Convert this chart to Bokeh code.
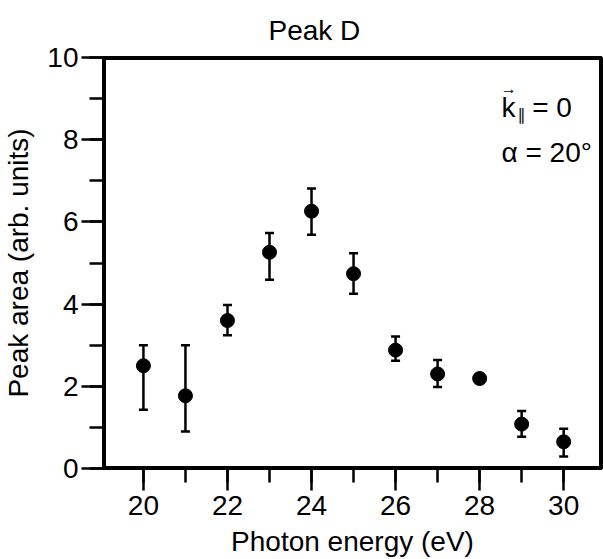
from bokeh.plotting import figure
from bokeh.models import (ColumnDataSource, Whisker, TeeHead, Label, SingleIntervalTicker,
                          Range1d, BoxAnnotation)
from bokeh.embed import file_html
from bokeh.resources import INLINE

# ---- data ----
photon_energy = [20, 21, 22, 23, 24, 25, 26, 27, 28, 29, 30]
peak_area     = [2.50, 1.77, 3.60, 5.26, 6.26, 4.74, 2.88, 2.30, 2.19, 1.08, 0.65]
err_lower     = [1.43, 0.90, 3.24, 4.59, 5.69, 4.25, 2.62, 1.98, None, 0.77, 0.29]
err_upper     = [3.00, 3.00, 3.98, 5.73, 6.81, 5.24, 3.21, 2.64, None, 1.40, 0.97]

title_text = "Peak D"
x_label = "Photon energy (eV)"
y_label = "Peak area (arb. units)"

FONT = "'Liberation Sans Narrow', 'Liberation Sans', sans-serif"
FONT2 = "'Liberation Sans', sans-serif"

p = figure(frame_width=498, frame_height=411, output_backend="svg", toolbar_location=None,
           x_range=Range1d(19.05, 30.9), y_range=Range1d(0, 10),
           min_border_left=102, min_border_right=3, min_border_top=56, min_border_bottom=92,
           title=title_text)
p.background_fill_color = "white"
p.border_fill_color = "white"
p.xgrid.visible = False
p.ygrid.visible = False
p.outline_line_color = "black"
p.outline_line_width = 3

p.title.text_font = FONT2
p.title.text_font_size = "28px"
p.title.text_font_style = "normal"
p.title.text_color = "black"
p.title.align = "left"
p.title.offset = 165
p.title.standoff = 24

for ax in (p.xaxis[0], p.yaxis[0]):
    ax.ticker = SingleIntervalTicker(interval=2, num_minor_ticks=2)
    ax.axis_line_width = 3
    ax.axis_line_color = "black"
    ax.major_tick_line_width = 2.5
    ax.minor_tick_line_width = 2.5
    ax.major_tick_line_color = "black"
    ax.minor_tick_line_color = "black"
    ax.major_tick_in = 0
    ax.minor_tick_in = 0
    ax.major_tick_out = 22
    ax.minor_tick_out = 14
    ax.major_label_text_font = FONT
    ax.major_label_text_font_size = "28px"
    ax.major_label_text_color = "black"
    ax.axis_label_text_font = FONT2
    ax.axis_label_text_font_size = "28px"
    ax.axis_label_text_font_style = "normal"
    ax.axis_label_text_color = "black"

p.xaxis.axis_label = x_label
p.yaxis.axis_label = y_label
p.xaxis.major_label_standoff = 5
p.xaxis.axis_label_standoff = 8
p.yaxis.major_label_standoff = 3
p.yaxis.axis_label_standoff = 10

# frame box (top and right edges of the plot area)
p.add_layout(BoxAnnotation(fill_alpha=0, line_color="black", line_width=5, line_alpha=1))

# error bars (point at 28 eV has none)
eb = [(x, lo, hi) for x, lo, hi in zip(photon_energy, err_lower, err_upper) if lo is not None]
esrc = ColumnDataSource(dict(x=[e[0] for e in eb], lower=[e[1] for e in eb], upper=[e[2] for e in eb]))
w = Whisker(source=esrc, base="x", lower="lower", upper="upper", dimension="height",
            line_color="black", line_width=2.5,
            upper_head=TeeHead(size=9, line_color="black", line_width=2.5),
            lower_head=TeeHead(size=9, line_color="black", line_width=2.5))
p.add_layout(w)

src = ColumnDataSource(dict(x=photon_energy, y=peak_area))
p.scatter("x", "y", source=src, size=14, marker="circle", fill_color="black", line_color="black")

# annotations
p.add_layout(Label(x=28.52, y=8.78, text="k", text_align="left", text_baseline="alphabetic",
                   text_font=FONT2, text_font_size="28px", text_color="black"))
p.add_layout(Label(x=28.50, y=9.25, text="\u2192", text_align="left", text_baseline="alphabetic",
                   text_font=FONT2, text_font_size="16px", text_color="black"))
p.add_layout(Label(x=28.90, y=8.62, text="\u2225", text_align="left", text_baseline="alphabetic",
                   text_font="'DejaVu Sans'", text_font_size="16px", text_color="black"))
p.add_layout(Label(x=29.25, y=8.78, text="= 0", text_align="left", text_baseline="alphabetic",
                   text_font=FONT2, text_font_size="28px", text_color="black"))
p.add_layout(Label(x=28.52, y=7.69, text="\u03b1 = 20\u00b0", text_align="left", text_baseline="alphabetic",
                   text_font=FONT2, text_font_size="28px", text_color="black"))

open("out.html", "w").write(file_html(p, INLINE))
